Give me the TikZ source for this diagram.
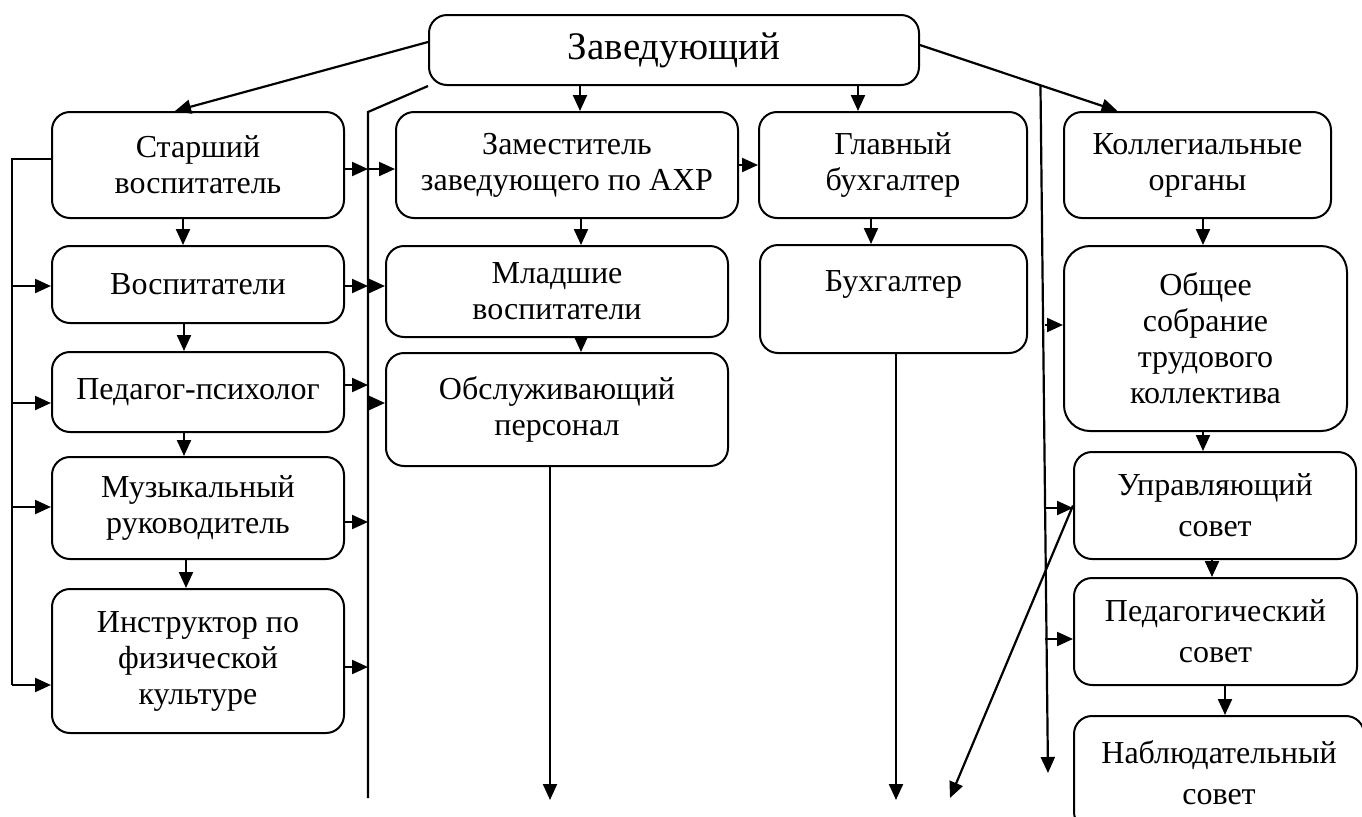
\documentclass[tikz,border=0pt]{standalone}
\usepackage{fontspec}
\setmainfont{Liberation Serif}
\usetikzlibrary{arrows.meta,calc}
\tikzstyle{block} = [draw, rectangle, rounded corners=9pt, line width=1pt, align=center, inner sep=0pt, font=\fontsize{16}{18}\selectfont]
\tikzstyle{council} = [block, font=\fontsize{16}{20.5}\selectfont]
\tikzstyle{link} = [draw, line width=1.1pt, -{Triangle[length=8pt,width=7pt]}]
\tikzstyle{bus} = [draw, line width=1.1pt, -]

\begin{document}
\begin{tikzpicture}[x=0.5pt,y=-0.5pt]
    \useasboundingbox (0,0) rectangle (1362,816);
    \clip (0,0) rectangle (1362,816);

    % The head of the kindergarten
    \node[block, minimum width=245pt, minimum height=35pt, font=\fontsize{19.5}{21}\selectfont] (zav) at (674,50) {Заведующий};

    % Pedagogical staff
    \node[block, minimum width=146pt, minimum height=53pt] (starsh) at (198,165) {Старший\\воспитатель};
    \node[block, minimum width=146pt, minimum height=38.5pt] (vosp) at (198,284.5) {Воспитатели};
    \node[block, minimum width=146pt, minimum height=40pt] (ped) at (198,392) {Педагог-психолог};
    \node[block, minimum width=146pt, minimum height=51pt] (muz) at (198,508) {Музыкальный\\руководитель};
    \node[block, minimum width=146pt, minimum height=72pt] (instr) at (198,661) {Инструктор по\\физической\\культуре};

    % Maintenance staff
    \node[block, minimum width=171pt, minimum height=53pt] (zam) at (567,165) {Заместитель\\заведующего по АХР};
    \node[block, minimum width=171pt, minimum height=45.5pt] (mlad) at (557,291.5) {Младшие\\воспитатели};
    \node[block, minimum width=171pt, minimum height=56.5pt] (obsl) at (557,409.5) {Обслуживающий\\персонал};

    % Accounting
    \node[block, minimum width=134pt, minimum height=53pt] (glav) at (893,165) {Главный\\бухгалтер};
    \node[block, minimum width=133.5pt, minimum height=54pt] (buh) at (893.5,299) {Бухгалтер\\~};

    % Collegial bodies
    \node[block, minimum width=133.5pt, minimum height=53pt] (koll) at (1197.5,165) {Коллегиальные\\органы};
    \node[block, rounded corners=13pt, minimum width=141.5pt, minimum height=92.5pt] (obsh) at (1205.5,338.5) {Общее\\собрание\\трудового\\коллектива};
    \node[council, minimum width=141pt, minimum height=53.5pt] (upr) at (1215,505.5) {Управляющий\\совет};
    \node[council, minimum width=141.5pt, minimum height=53.5pt] (pedsov) at (1215.5,631.5) {Педагогический\\совет};
    \node[council, minimum width=145pt, minimum height=57pt] (nabl) at (1219,773) {Наблюдательный\\совет};

    % Points of the buses and loose ends
    \coordinate (lbus) at (12,159);
    \coordinate (busT) at (368,112);
    \coordinate (busB) at (368,798);
    \coordinate (rbus) at (1045,0);
    \coordinate (zE) at ([yshift=2.5pt]zav.east);
    \coordinate (kTop) at ([xshift=-40pt]koll.north);
    \coordinate (jR) at ($(zE)!0.61!(kTop)$);
    \coordinate (endR) at (1048,773);
    \coordinate (endO) at (550,800);
    \coordinate (endB) at (896,800);
    \coordinate (endU) at (950,798);

    % Lines from the head
    \path[link] ([yshift=4pt]zav.west) -- ([xshift=-11.5pt]starsh.north);
    \path[link] (zE) -- (kTop);
    \path[link] (jR) -- (endR);
    \path[bus] (zav.south west) -- (busT) -- (busB);
    \path[bus] (starsh.west |- lbus) -- (lbus) -- (lbus |- 0,685);

    % Vertical links between the boxes
    \foreach \a/\b/\x in {zav/zam/580, zam/mlad/581, mlad/obsl/581, zav/glav/858, glav/buh/871,
                         koll/obsh/1203, obsh/upr/1203, upr/pedsov/1212, pedsov/nabl/1225,
                         starsh/vosp/183, vosp/ped/184, ped/muz/184, muz/instr/186}
        \path[link] (\a.south -| \x,0) -- (\b.north -| \x,0);

    % Links to and from the buses
    \foreach \dst/\y in {vosp/286, ped/403, muz/507, instr/685}
        \path[link] (lbus |- 0,\y) -- (\dst.west |- 0,\y);
    \foreach \src/\y in {starsh/169, vosp/286, ped/385, muz/522, instr/667}
        \path[link] (\src.east |- 0,\y) -- (busT |- 0,\y);
    \foreach \dst/\y in {zam/169, mlad/286, obsl/403}
        \path[link] (busT |- 0,\y) -- (\dst.west |- 0,\y);
    \foreach \dst/\y in {obsh/325, upr/508, pedsov/639}
        \path[link] (rbus |- 0,\y) -- (\dst.west |- 0,\y);
    \path[link] (zam.east) -- (glav.west);

    % Loose arrows at the bottom
    \path[link] (obsl.south -| endO) -- (endO);
    \path[link] (buh.south -| endB) -- (endB);
    \path[link] (upr.west) -- (endU);

\end{tikzpicture}
\end{document}
